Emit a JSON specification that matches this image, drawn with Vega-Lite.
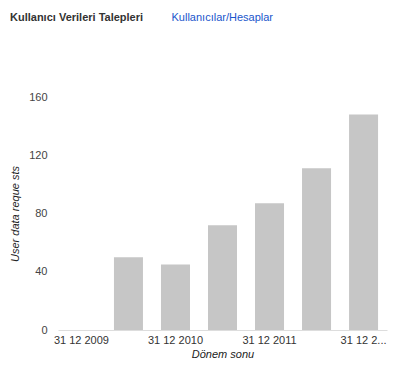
{
  "$schema": "https://vega.github.io/schema/vega-lite/v6.json",
  "width": 329,
  "height": 233,
  "autosize": {"type": "none"},
  "padding": {"left": 58, "top": 97, "right": 14, "bottom": 39},
  "title": {"text": "Kullanıcı Verileri Talepleri", "anchor": "start", "frame": "group", "dx": -48, "dy": 16, "fontSize": 11, "fontWeight": "bold", "color": "#333333", "font": "Liberation Sans"},
  "data": {"values": [
    {"period": "31 12 2009", "requests": 0},
    {"period": "30 06 2010", "requests": 50},
    {"period": "31 12 2010", "requests": 45},
    {"period": "30 06 2011", "requests": 72},
    {"period": "31 12 2011", "requests": 87},
    {"period": "30 06 2012", "requests": 111},
    {"period": "31 12 2012", "requests": 148}
  ]},
  "config": {"view": {"stroke": null}, "font": "Liberation Sans"},
  "layer": [
    {
      "mark": {"type": "bar", "color": "#c6c6c6"},
      "encoding": {
        "x": {"field": "period", "type": "nominal", "sort": null,
          "scale": {"paddingInner": 0.383, "paddingOuter": 0.19},
          "axis": {"title": "Dönem sonu", "titleFont": "Liberation Sans", "titleFontSize": 11, "titleFontWeight": "normal", "titleFontStyle": "italic", "titleColor": "#222222", "titlePadding": 3,
            "values": ["31 12 2009", "31 12 2010", "31 12 2011", "31 12 2012"],
            "labelExpr": "datum.value == '31 12 2012' ? '31 12 2...' : datum.label",
            "labelAngle": 0, "labelFontSize": 11, "labelColor": "#333333", "labelPadding": 4, "labelLimit": 80,
            "ticks": false, "domainColor": "#dddddd", "domainWidth": 1, "grid": false}},
        "y": {"field": "requests", "type": "quantitative",
          "scale": {"domain": [0, 160], "nice": false},
          "axis": {"title": "User data reque sts", "titleFont": "Liberation Sans", "titleFontSize": 11, "titleFontWeight": "normal", "titleFontStyle": "italic", "titleColor": "#222222", "titlePadding": 8,
            "values": [0, 40, 80, 120, 160], "labelFontSize": 11, "labelColor": "#444444", "labelPadding": 11,
            "ticks": false, "domain": false, "grid": false}}
      }
    },
    {
      "mark": {"type": "bar", "opacity": 0},
      "encoding": {
        "x": {"field": "period", "type": "nominal", "sort": null,
          "axis": {"orient": "top", "labels": false, "ticks": false, "domain": false, "grid": false,
            "title": "Kullanıcılar/Hesaplar", "titleFont": "Liberation Sans", "titleFontSize": 11, "titleFontWeight": "normal", "titleColor": "#1a56cc",
            "titleX": 113, "titleY": -77, "titleAlign": "left", "titleBaseline": "alphabetic", "titleAngle": 0}}
      }
    }
  ],
  "resolve": {"axis": {"x": "independent"}}
}
